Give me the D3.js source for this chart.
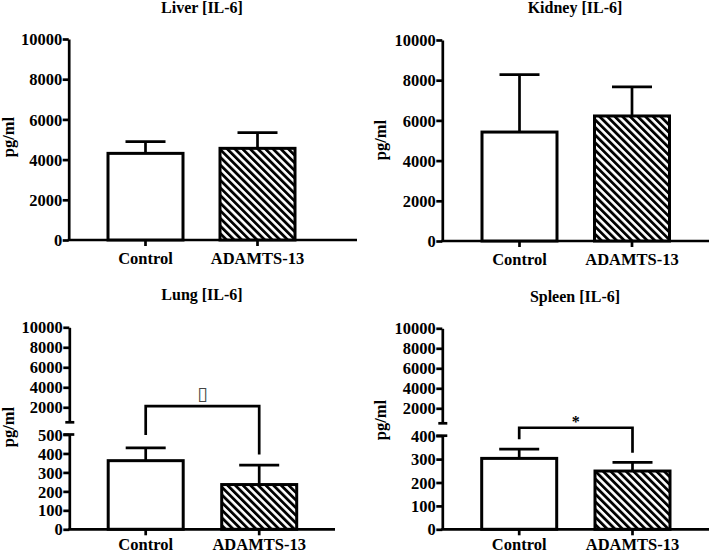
<!DOCTYPE html>
<html><head><meta charset="utf-8">
<script src="https://cdn.jsdelivr.net/npm/d3@7"></script>
<style>
html,body{margin:0;padding:0;background:#fff;}
svg{display:block;}
text{font-family:"Liberation Serif","Times New Roman",serif;font-weight:bold;fill:#000;}
</style></head>
<body>
<script>
// ---- data ----
const categories = ["Control", "ADAMTS-13"];
const titles = ["Liver [IL-6]", "Kidney [IL-6]", "Lung [IL-6]", "Spleen [IL-6]"];
const yLabel = "pg/ml";
const liverMean = [4310, 4560];
const liverErr = [580, 780];
const kidneyMean = [5420, 6220];
const kidneyErr = [2860, 1450];
const lungMean = [362, 236];
const lungErr = [67, 103];
const spleenMean = [303, 249];
const spleenErr = [40, 37];
const fullTicks = [0, 2000, 4000, 6000, 8000, 10000];
const upperTicks = [2000, 4000, 6000, 8000, 10000];
const lungLowerTicks = [0, 100, 200, 300, 400, 500];
const spleenLowerTicks = [0, 100, 200, 300, 400];
const lungSig = "\u25AF";
const spleenSig = "*";
// bracket: level and leg ends (in lower-scale units)
const lungBracket = {level: 650, legs: [497, 395]};
const spleenBracket = {level: 434, legs: [385, 327]};

const W = 709, H = 553;
const svg = d3.select("body").append("svg").attr("width", W).attr("height", H);

const defs = svg.append("defs");
const pat = defs.append("pattern").attr("id", "hatch")
  .attr("patternUnits", "userSpaceOnUse").attr("width", 5.4).attr("height", 5.4)
  .attr("patternTransform", "rotate(-45)");
pat.append("rect").attr("width", 5.4).attr("height", 5.4).attr("fill", "#fff");
pat.append("rect").attr("x", 0).attr("width", 2.8).attr("height", 5.4).attr("fill", "#000");

const FS = 16.5;
const LW = 2.7;

function drawPanel(cfg) {
  const g = svg.append("g");
  const x = d3.scalePoint().domain(categories).range(cfg.centers);
  const barW = 75;
  // title
  g.append("text").attr("x", cfg.titleX).attr("y", cfg.titleY)
    .attr("text-anchor", "middle").style("font-size", "16px").text(cfg.title);
  // y label
  g.append("text").attr("transform", `translate(${cfg.labelX},${cfg.labelY}) rotate(-90)`)
    .attr("text-anchor", "middle").style("font-size", FS + "px").text(yLabel);

  let yv; // scale for data
  if (!cfg.broken) {
    yv = d3.scaleLinear().domain([0, 10000]).range([cfg.y0, cfg.y10k]);
    const ax = g.append("g").attr("transform", `translate(${cfg.axisX},0)`)
      .call(d3.axisLeft(yv).tickValues(fullTicks).tickSize(6).tickSizeOuter(0).tickPadding(0.5).tickFormat(d3.format("d")));
    styleAxis(ax);
  } else {
    yv = d3.scaleLinear().domain([0, cfg.lowerMax]).range([cfg.y0, cfg.yLowerTop]);
    const yu = d3.scaleLinear().domain([500, 10000]).range([cfg.y10k + 95, cfg.y10k]);
    const axL = g.append("g").attr("transform", `translate(${cfg.axisX},0)`)
      .call(d3.axisLeft(yv).tickValues(cfg.lowerTicks).tickSize(6).tickSizeOuter(0).tickPadding(0.5).tickFormat(d3.format("d")));
    styleAxis(axL);
    const axU = g.append("g").attr("transform", `translate(${cfg.axisX},0)`)
      .call(d3.axisLeft(yu).tickValues(upperTicks).tickSize(6).tickSizeOuter(0).tickPadding(0.5).tickFormat(d3.format("d")));
    styleAxis(axU);
    // caps at break
    g.append("line").attr("x1", cfg.axisX - 4).attr("x2", cfg.axisX + 5)
      .attr("y1", yu(500)).attr("y2", yu(500)).attr("stroke", "#000").attr("stroke-width", LW);
    g.append("line").attr("x1", cfg.axisX - 6).attr("x2", cfg.axisX + 5)
      .attr("y1", yv(cfg.lowerMax)).attr("y2", yv(cfg.lowerMax)).attr("stroke", "#000").attr("stroke-width", LW);
  }

  // x axis
  g.append("line").attr("x1", cfg.axisX - 1).attr("x2", cfg.xEnd)
    .attr("y1", cfg.y0).attr("y2", cfg.y0).attr("stroke", "#000").attr("stroke-width", LW);
  categories.forEach((c) => {
    g.append("line").attr("x1", x(c)).attr("x2", x(c)).attr("y1", cfg.y0).attr("y2", cfg.y0 + 6)
      .attr("stroke", "#000").attr("stroke-width", LW);
    g.append("text").attr("x", x(c)).attr("y", cfg.y0 + cfg.catDy).attr("text-anchor", "middle")
      .style("font-size", FS + "px").text(c);
  });

  // error bars (upper only), drawn before bars
  categories.forEach((c, i) => {
    const top = yv(cfg.mean[i] + cfg.err[i]);
    g.append("line").attr("x1", x(c)).attr("x2", x(c)).attr("y1", yv(cfg.mean[i])).attr("y2", top)
      .attr("stroke", "#000").attr("stroke-width", LW);
    g.append("line").attr("x1", x(c) - 20).attr("x2", x(c) + 20).attr("y1", top).attr("y2", top)
      .attr("stroke", "#000").attr("stroke-width", LW);
  });
  // bars
  categories.forEach((c, i) => {
    g.append("rect").attr("x", x(c) - barW / 2).attr("width", barW)
      .attr("y", yv(cfg.mean[i])).attr("height", cfg.y0 - yv(cfg.mean[i]))
      .attr("fill", i === 0 ? "#fff" : "url(#hatch)")
      .attr("stroke", "#000").attr("stroke-width", 3);
  });

  if (cfg.bracket) {
    const b = cfg.bracket;
    const by = yv(b.level);
    const xa = x(categories[0]), xb = x(categories[1]);
    g.append("path")
      .attr("d", `M${xa},${yv(b.legs[0])}V${by}H${xb}V${yv(b.legs[1])}`)
      .attr("fill", "none").attr("stroke", "#000").attr("stroke-width", LW);
    g.append("text").attr("x", (xa + xb) / 2).attr("y", by + cfg.sigDy)
      .attr("text-anchor", "middle")
      .style("font-family", cfg.sigFont).style("font-weight", cfg.sigWeight)
      .style("font-size", cfg.sigSize + "px").style("fill", cfg.sigColor)
      .text(cfg.sig);
  }
}

function styleAxis(ax) {
  ax.select(".domain").attr("stroke", "#000").attr("stroke-width", LW);
  ax.selectAll(".tick line").attr("stroke", "#000").attr("stroke-width", LW);
  ax.selectAll(".tick text").style("font-size", FS + "px")
    .style("font-family", '"Liberation Serif","Times New Roman",serif')
    .style("font-weight", "bold").attr("fill", "#000").attr("dy", "0.34em");
}

drawPanel({title: titles[0], mean: liverMean, err: liverErr, axisX: 68.7, y0: 240, y10k: 39,
  xEnd: 357, titleX: 202, titleY: 12.5, labelX: 14, labelY: 137, centers: [145.5, 257.5], catDy: 24});
drawPanel({title: titles[1], mean: kidneyMean, err: kidneyErr, axisX: 442.3, y0: 241, y10k: 40,
  xEnd: 709, titleX: 575, titleY: 13, labelX: 386, labelY: 140, centers: [519.5, 632], catDy: 24});
drawPanel({title: titles[2], mean: lungMean, err: lungErr, axisX: 69.3, y0: 529.3, y10k: 327.3,
  broken: true, lowerMax: 500, yLowerTop: 434.5, lowerTicks: lungLowerTicks,
  xEnd: 335, titleX: 202, titleY: 300, labelX: 14, labelY: 427, centers: [145.7, 259.2], catDy: 21,
  bracket: lungBracket, sig: lungSig, sigDy: -6, sigFont: '"DejaVu Sans"', sigWeight: "normal", sigSize: 19, sigColor: "#444"});
drawPanel({title: titles[3], mean: spleenMean, err: spleenErr, axisX: 442.3, y0: 529.3, y10k: 328.3,
  broken: true, lowerMax: 400, yLowerTop: 435.7, lowerTicks: spleenLowerTicks,
  xEnd: 709, titleX: 575, titleY: 301.5, labelX: 386, labelY: 420, centers: [519.2, 632.5], catDy: 21,
  bracket: spleenBracket, sig: spleenSig, sigDy: -1, sigFont: '"Liberation Serif"', sigWeight: "bold", sigSize: 16, sigColor: "#000"});
</script>
</body></html>
